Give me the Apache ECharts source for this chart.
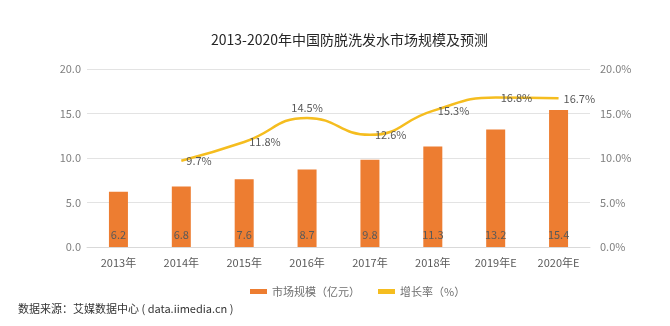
<!DOCTYPE html>
<html>
<head>
<meta charset="utf-8">
<script src="https://cdn.jsdelivr.net/npm/echarts@6/dist/echarts.min.js"></script>
<style>html,body{margin:0;padding:0;background:#fff;}#c{width:670px;height:326px;}</style>
</head>
<body>
<div id="c"></div>
<script>
const categories = ['2013年','2014年','2015年','2016年','2017年','2018年','2019年E','2020年E'];
const marketSize = [6.2, 6.8, 7.6, 8.7, 9.8, 11.3, 13.2, 15.4];
const growthRate = [null, 9.7, 11.8, 14.5, 12.6, 15.3, 16.8, 16.7];
const growthLabelPos = ['right','right','right','top','right','right','right','right'];

const font = "'Noto Sans CJK SC', 'Noto Sans', sans-serif";
const chart = echarts.init(document.getElementById('c'), null, {renderer:'canvas'});
chart.setOption({
  animation: false,
  textStyle: {fontFamily: font},
  title: {
    text: '2013-2020年中国防脱洗发水市场规模及预测',
    left: 206, top: 28,
    textStyle: {fontSize: 14, fontWeight: 'normal', color: '#262626', fontFamily: font}
  },
  graphic: [{
    type: 'text', left: 18, top: 303,
    style: {text: '数据来源：艾媒数据中心 ( data.iimedia.cn )', fontSize: 11, fill: '#333', fontFamily: font}
  }],
  legend: {
    top: 281, left: 245,
    itemGap: 18, itemWidth: 17, itemHeight: 5,
    textStyle: {fontSize: 11, color: '#6f6f6f', fontFamily: font},
    data: [
      {name: '市场规模（亿元）', icon: 'rect'},
      {name: '增长率（%）', icon: 'rect', itemStyle: {color: '#F5BD1F', opacity: 1}}
    ]
  },
  grid: {left: 87, right: 80, top: 69, bottom: 79},
  xAxis: {
    type: 'category', data: categories,
    axisLine: {lineStyle: {color: '#d9d9d9'}},
    axisTick: {show: false},
    axisLabel: {color: '#595959', fontSize: 11, margin: 10}
  },
  yAxis: [{
    type: 'value', min: 0, max: 20, interval: 5,
    axisLabel: {color: '#7f7f7f', fontSize: 11, margin: 6, formatter: v => v.toFixed(1)},
    splitLine: {lineStyle: {color: '#e3e3e3'}},
    axisLine: {show: false}, axisTick: {show: false}
  },{
    type: 'value', min: 0, max: 20, interval: 5,
    axisLabel: {color: '#7f7f7f', fontSize: 11, margin: 10, formatter: v => v.toFixed(1) + '%'},
    splitLine: {show: false},
    axisLine: {show: false}, axisTick: {show: false}
  }],
  series: [{
    name: '市场规模（亿元）', type: 'bar', data: marketSize,
    barWidth: 19,
    itemStyle: {color: '#ED7D31'},
    label: {show: true, position: 'insideBottom', distance: 7, color: '#595959', fontSize: 11,
      formatter: p => p.value.toFixed(1)}
  },{
    name: '增长率（%）', type: 'line', yAxisIndex: 1, smooth: 0.5,
    data: growthRate.map((v, i) => ({value: v, label: {show: true, position: growthLabelPos[i]}})),
    symbol: 'circle', symbolSize: 2, showSymbol: true, connectNulls: false,
    lineStyle: {color: '#F5BD1F', width: 2.5},
    itemStyle: {color: 'rgba(245,189,31,0)', borderWidth: 0},
    label: {show: true, color: '#595959', fontSize: 11, distance: 4,
      formatter: p => p.value == null ? '' : p.value.toFixed(1) + '%'}
  }]
});
</script>
</body>
</html>
